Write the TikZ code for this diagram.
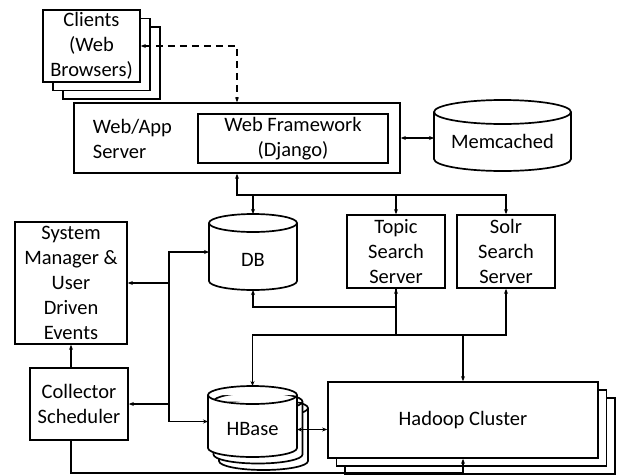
\documentclass[tikz,border=0pt]{standalone}
\usepackage{fontspec}
\setmainfont{Carlito}
\usetikzlibrary{shadows, arrows.meta, backgrounds}

% drum outline round a node: name, half width, ellipse radius
\newcommand{\drum}[3]{%
    \draw[fill=white, line width=1.7pt] ([yshift=-#3]#1.north west) arc[start angle=180, end angle=0, x radius=#2, y radius=#3]
        -- ([yshift=#3]#1.south east) arc[start angle=0, end angle=-180, x radius=#2, y radius=#3] -- cycle
        ([yshift=-#3]#1.north west) arc[start angle=180, end angle=360, x radius=#2, y radius=#3];}

\begin{document}
\begin{tikzpicture}[x=1pt, y=-1pt, line width=1.7pt,
        every node/.style={font=\fontsize{20.5}{25}\selectfont, inner sep=0pt},
        box/.style={draw, fill=white, align=center},
        store/.style={outer sep=0pt, text height=28pt, text depth=0pt},
        >={Stealth[length=5pt, width=4pt]}]
    \useasboundingbox (0, 0) rectangle (617, 474);

    \node[box, minimum width=97pt, minimum height=72pt, double copy shadow={shadow xshift=10pt, shadow yshift=-8.5pt}] (clients) at (91.5, 46) {Clients \\ (Web \\ Browsers)};
    \node[box, minimum width=326pt, minimum height=70pt] (webapp) at (237, 138) {};
    \node[align=left, anchor=west] (webtext) at (92, 139) {Web/App \\ Server};
    \node[box, minimum width=190pt, minimum height=49pt] (django) at (293, 138.5) {Web Framework \\ (Django)};
    \node[store, text height=26pt, minimum width=137pt, minimum height=71pt] (memcached) at (502.5, 135.5) {Memcached};

    \node[store, minimum width=88pt, minimum height=76pt] (db) at (253, 252) {DB};
    \node[box, minimum width=98pt, minimum height=73pt] (topic) at (396, 251.5) {Topic \\ Search \\ Server};
    \node[box, minimum width=98pt, minimum height=73pt] (solr) at (506, 251.5) {Solr \\ Search \\ Server};
    \node[box, minimum width=112pt, minimum height=122pt] (sysmgr) at (71, 283) {System \\ Manager \& \\ User \\ Driven \\ Events};
    \node[box, minimum width=98pt, minimum height=72pt] (collector) at (79, 404) {Collector \\ Scheduler};

    \node[store, minimum width=89pt, minimum height=71pt] (hbase3) at (263.5, 434.5) {};
    \node[store, minimum width=89pt, minimum height=71pt] (hbase2) at (258, 428) {};
    \node[store, minimum width=89pt, minimum height=71pt] (hbase) at (252.5, 421.5) {HBase};
    \node[box, minimum width=270pt, minimum height=76pt, double copy shadow={shadow xshift=8.5pt, shadow yshift=-8pt}] (hadoop) at (463, 420) {Hadoop Cluster};

    \begin{scope}[on background layer]
        \drum{memcached}{68.5pt}{12pt}
        \drum{db}{44pt}{9pt}
        \drum{hbase3}{44.5pt}{9pt}
        \drum{hbase2}{44.5pt}{9pt}
        \drum{hbase}{44.5pt}{9pt}
    \end{scope}

    \draw[<->, dash pattern=on 7pt off 5pt] (clients.east) -| (webapp.north);
    \draw[<->] (webapp.east) -- (memcached.west |- webapp.east);

    \begin{scope}[->]
        \draw[<->] (webapp.south) -- ++(0, 21) coordinate (upbus) -| (solr.north);
        \draw (upbus -| db.north) -- (db.north);
        \draw (upbus -| topic.north) -- (topic.north);
        \draw[<->] (db.south) -- ++(0, 17) -| (topic.south);
        \draw[<->] (solr.south) -- ++(0, 46) coordinate (lowbus) -| (hbase.north);
        \draw[-] (topic.south) -- (topic.south |- lowbus);
        \draw (lowbus -| hadoop.north) -- (hadoop.north);

        \draw[<->] (db.west) -- ++(-40, 0) coordinate (leftbus) |- (hbase.west);
        \draw (leftbus |- sysmgr.east) -- (sysmgr.east);
        \draw (leftbus |- collector.east) -- (collector.east);
        \draw (collector.north -| sysmgr.south) -- (sysmgr.south);
        \draw (collector.south -| sysmgr.south) -- ++(0, 32) -| (hadoop.south);
        \draw[<->] ([yshift=-8pt]hbase.east) -- ([yshift=-8pt]hbase.east -| hadoop.west);
    \end{scope}
\end{tikzpicture}
\end{document}
